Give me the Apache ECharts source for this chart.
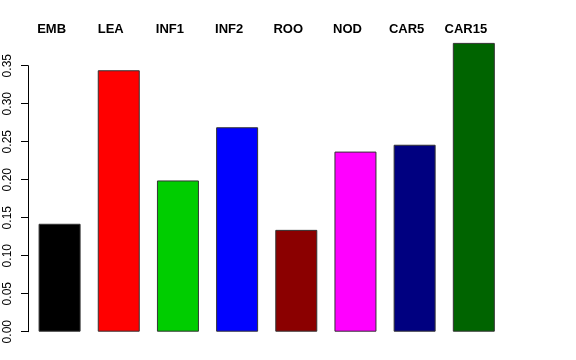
<!DOCTYPE html>
<html>
<head>
<meta charset="utf-8">
<script src="https://cdn.jsdelivr.net/npm/echarts@6/dist/echarts.min.js"></script>
<style>html,body{margin:0;padding:0;background:#fff}#c{width:576px;height:360px}</style>
</head>
<body>
<div id="c"></div>
<script>
var categories = ['EMB','LEA','INF1','INF2','ROO','NOD','CAR5','CAR15'];
var values = [0.142, 0.344, 0.199, 0.269, 0.134, 0.237, 0.246, 0.380];
var barColors = ['#000000','#FF0000','#00CD00','#0000FF','#8B0000','#FF00FF','#000080','#006400'];
var yTicks = ['0.00','0.05','0.10','0.15','0.20','0.25','0.30','0.35'];

var chart = echarts.init(document.getElementById('c'), null, {renderer:'canvas'});
chart.setOption({
  animation: false,
  backgroundColor: '#ffffff',
  grid: {left: 30, width: 473.4, top: 65.7, bottom: 28.3, containLabel: false},
  xAxis: {
    type: 'category',
    position: 'top',
    data: categories,
    axisLine: {show: false},
    axisTick: {show: false},
    axisLabel: {
      margin: 30,
      color: '#000',
      fontWeight: 'bold',
      fontSize: 13,
      fontFamily: 'Liberation Sans, Arial, sans-serif',
      padding: [0, 16, 0, 0]
    },
    splitLine: {show: false}
  },
  yAxis: {
    type: 'value',
    min: 0,
    max: 0.35,
    interval: 0.05,
    offset: 2,
    axisLine: {show: true, lineStyle: {color: '#000', width: 1}},
    axisTick: {show: true, length: 7, lineStyle: {color: '#000'}},
    splitLine: {show: false},
    axisLabel: {
      rotate: 90,
      margin: 14,
      color: '#000',
      fontSize: 12,
      fontFamily: 'Liberation Sans, Arial, sans-serif',
      formatter: function (v) { return yTicks[Math.round(v / 0.05)]; }
    }
  },
  series: [{
    type: 'bar',
    clip: false,
    barWidth: 42,
    data: values.map(function (v, i) {
      return {value: v, itemStyle: {color: barColors[i]}};
    }),
    itemStyle: {borderColor: '#333', borderWidth: 1}
  }]
});
</script>
</body>
</html>
